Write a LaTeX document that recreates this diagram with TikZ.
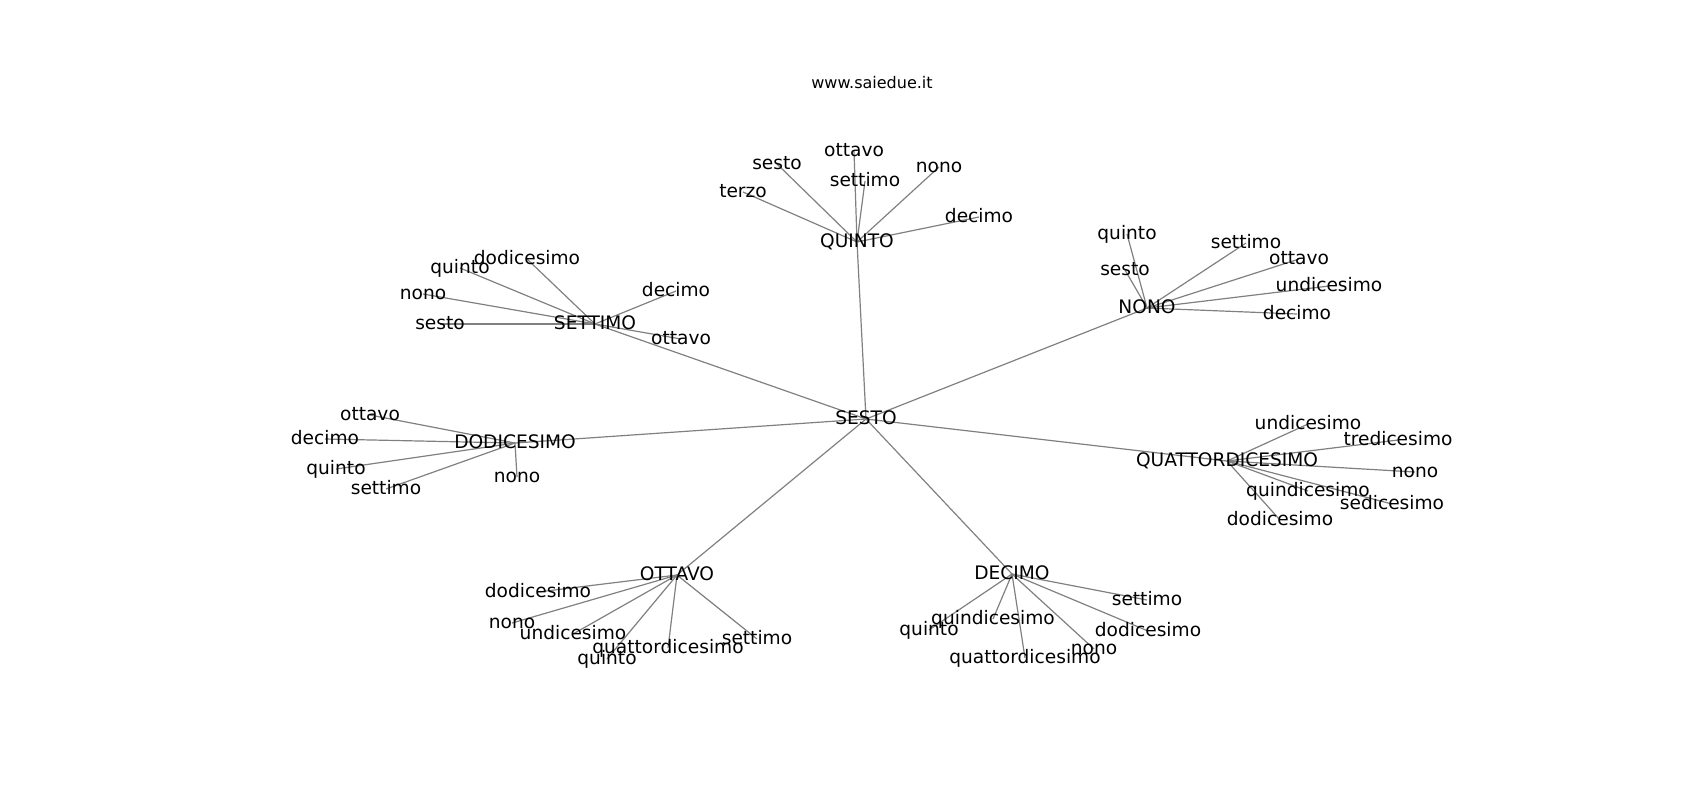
\documentclass[tikz,border=0pt]{standalone}
\usepackage{fontspec}
\setmainfont{DejaVu Sans}
\usetikzlibrary{backgrounds}
\begin{document}
\begin{tikzpicture}[x=0.5pt,y=-0.5pt,line join=round,line cap=round,
	lbl/.style={inner sep=0pt,text height=0.75em,text depth=0.25em,font=\fontsize{9.3}{11}\selectfont},
	edge/.style={black!50,line width=0.6pt}]
	\useasboundingbox (0,0) rectangle (1700,800);
	\node[inner sep=0pt,font=\fontsize{8}{10}\selectfont] (titolo) at (872,83) {www.saiedue.it};
	% nodi principali
	\foreach \n/\x/\y/\t in {sesto/866/419/SESTO,quinto/857/242/QUINTO,settimo/595/324/SETTIMO,
		nono/1147/308/NONO,dodic/515/443/DODICESIMO,quattord/1227/461/QUATTORDICESIMO,
		ottavo/677/575/OTTAVO,decimo/1012/574/DECIMO}
	\node[lbl] (\n) at (\x,\y) {\t};
	% foglie
	\foreach \n/\x/\y/\t in {q1/743/192/terzo,q2/777/164/sesto,q3/854/151/ottavo,q4/865/181/settimo,
		q5/939/167/nono,q6/979/217/decimo,
		s1/527/259/dodicesimo,s2/460/268/quinto,s3/423/294/nono,s4/440/324/sesto,
		s5/676/291/decimo,s6/681/339/ottavo,
		n1/1127/234/quinto,n2/1246/243/settimo,n3/1125/270/sesto,n4/1299/259/ottavo,
		n5/1329/286/undicesimo,n6/1297/314/decimo,
		d1/370/415/ottavo,d2/325/439/decimo,d3/336/469/quinto,d4/386/489/settimo,d5/517/477/nono,
		t1/1308/424/undicesimo,t2/1398/440/tredicesimo,t3/1415/472/nono,t4/1308/491/quindicesimo,
		t5/1392/504/sedicesimo,t6/1280/520/dodicesimo,
		o1/538/592/dodicesimo,o2/512/623/nono,o3/573/634/undicesimo,o4/668/648/quattordicesimo,
		o5/607/659/quinto,o6/757/639/settimo,
		e1/1147/600/settimo,e2/993/619/quindicesimo,e3/929/630/quinto,e4/1148/631/dodicesimo,
		e5/1094/649/nono,e6/1025/658/quattordicesimo}
	\node[lbl] (\n) at (\x,\y) {\t};
	\begin{scope}[on background layer]
		\foreach \b in {quinto,settimo,nono,dodic,quattord,ottavo,decimo}
		\draw[edge] (sesto.center)--(\b.center);
		\foreach \a/\b in {quinto/q1,quinto/q2,quinto/q3,quinto/q4,quinto/q5,quinto/q6,
			settimo/s1,settimo/s2,settimo/s3,settimo/s4,settimo/s5,settimo/s6,
			nono/n1,nono/n2,nono/n3,nono/n4,nono/n5,nono/n6,
			dodic/d1,dodic/d2,dodic/d3,dodic/d4,dodic/d5,
			quattord/t1,quattord/t2,quattord/t3,quattord/t4,quattord/t5,quattord/t6,
			ottavo/o1,ottavo/o2,ottavo/o3,ottavo/o4,ottavo/o5,ottavo/o6,
			decimo/e1,decimo/e2,decimo/e3,decimo/e4,decimo/e5,decimo/e6}
		\draw[edge] (\a.center)--(\b.center);
	\end{scope}
\end{tikzpicture}
\end{document}
